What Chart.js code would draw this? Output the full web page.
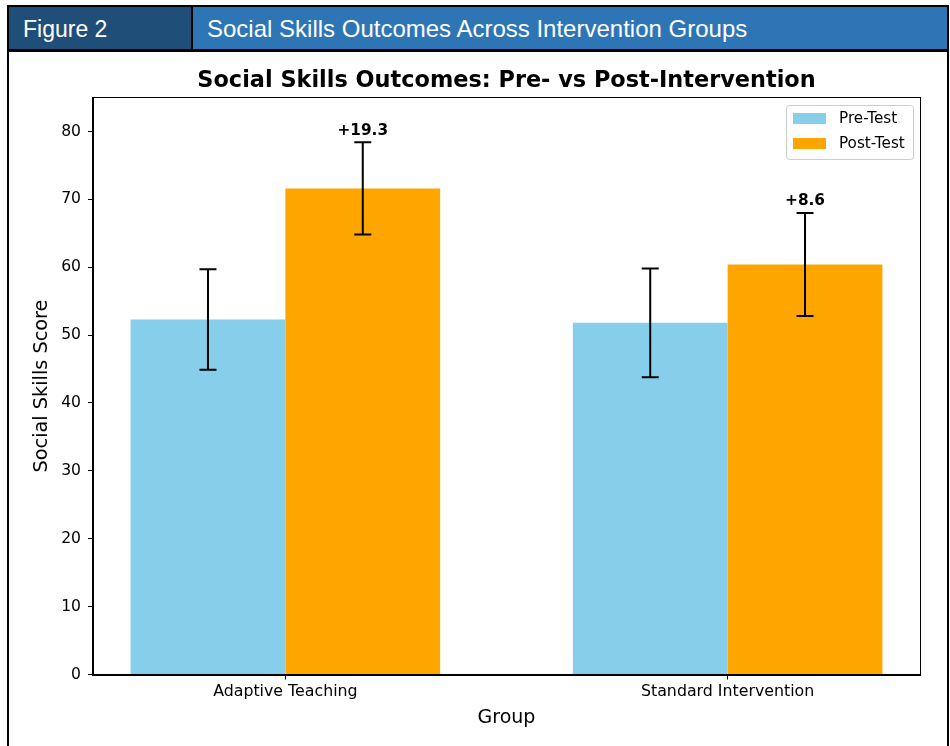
<!DOCTYPE html>
<html>
<head>
<meta charset="utf-8">
<title>Social Skills Outcomes Across Intervention Groups</title>
<script src="https://cdn.jsdelivr.net/npm/chart.js@4/dist/chart.umd.min.js"></script>
<style>
  html, body { margin: 0; padding: 0; background: #fff; }
  body { width: 950px; height: 746px; position: relative; overflow: hidden; }
  #frame {
    position: absolute; left: 7px; top: 5px; width: 942px; height: 800px;
    border: 2px solid #000; box-sizing: border-box;
  }
  #header {
    position: absolute; left: 0; top: 0; right: 0; height: 45px;
    border-bottom: 3px solid #000; box-sizing: border-box; display: flex;
    font-family: "Liberation Sans", Arial, sans-serif; color: #fff;
  }
  #header .num {
    width: 184px; background: #1F4E79; border-right: 2px solid #000; box-sizing: border-box;
    padding-left: 14px; padding-top: 2px; line-height: 40px; white-space: nowrap; font-size: 23px;
  }
  #header .name {
    flex: 1; background: #2E75B6; padding-left: 14px; padding-top: 2px; line-height: 40px;
    white-space: nowrap; font-size: 24px;
  }
  #chart { position: absolute; left: 9px; top: 52px; }
</style>
</head>
<body>
<div id="frame">
  <div id="header"><div class="num">Figure 2</div><div class="name">Social Skills Outcomes Across Intervention Groups</div></div>
</div>
<canvas id="chart" width="938" height="694"></canvas>
<script>
// Group names and mean scores with their error margins
const groups = ['Adaptive Teaching', 'Standard Intervention'];
const preScores = [52.3, 51.8];
const postScores = [71.6, 60.4];
const preErr = [7.4, 8.0];
const postErr = [6.8, 7.6];
const scoreTicks = [0, 10, 20, 30, 40, 50, 60, 70, 80];
const seriesNames = ['Pre-Test', 'Post-Test'];

const FONT = 'DejaVu Sans';

// Error bars with caps, drawn at each bar's centre
const errorBars = {
  id: 'errorBars',
  afterDatasetsDraw(chart) {
    const ctx = chart.ctx;
    const y = chart.scales.y;
    ctx.save();
    ctx.strokeStyle = '#000';
    ctx.lineWidth = 2;
    chart.data.datasets.forEach((ds, di) => {
      const meta = chart.getDatasetMeta(di);
      meta.data.forEach((bar, i) => {
        const v = ds.data[i].y, e = ds.err[i];
        const top = y.getPixelForValue(v + e);
        const bot = y.getPixelForValue(v - e);
        const cx = bar.x, cap = 8.5;
        ctx.beginPath();
        ctx.moveTo(cx, top); ctx.lineTo(cx, bot);
        ctx.moveTo(cx - cap, top); ctx.lineTo(cx + cap, top);
        ctx.moveTo(cx - cap, bot); ctx.lineTo(cx + cap, bot);
        ctx.stroke();
      });
    });
    ctx.restore();
  }
};

// Pre-to-post gain printed above each post-test error bar
const gainLabels = {
  id: 'gainLabels',
  afterDatasetsDraw(chart) {
    const ctx = chart.ctx;
    const y = chart.scales.y;
    const meta = chart.getDatasetMeta(1);
    ctx.save();
    ctx.font = 'bold 15.3px "' + FONT + '"';
    ctx.fillStyle = '#000';
    ctx.textAlign = 'center';
    ctx.textBaseline = 'alphabetic';
    meta.data.forEach((bar, i) => {
      const gain = postScores[i] - preScores[i];
      const top = y.getPixelForValue(postScores[i] + postErr[i]);
      ctx.fillText('+' + gain.toFixed(1), bar.x, top - 7.5);
    });
    ctx.restore();
  }
};

// Full box around the plot area, title above it and legend in its upper-right corner
const frameTitleLegend = {
  id: 'frameTitleLegend',
  afterDraw(chart) {
    const ctx = chart.ctx;
    const a = chart.chartArea;
    ctx.save();
    ctx.strokeStyle = '#000';
    ctx.lineWidth = 1;
    ctx.strokeRect(Math.round(a.left) - 0.5, Math.round(a.top) - 0.5,
                   Math.round(a.right - a.left) + 1, Math.round(a.bottom - a.top) + 1);

    ctx.font = 'bold 22.4px "' + FONT + '"';
    ctx.fillStyle = '#000';
    ctx.textAlign = 'center';
    ctx.textBaseline = 'middle';
    ctx.fillText('Social Skills Outcomes: Pre- vs Post-Intervention', (a.left + a.right) / 2, a.top - 16.5);

    // legend
    const bx = a.right - 134, by = a.top + 7.5, bw = 127, bh = 54;
    ctx.fillStyle = 'rgba(255,255,255,0.8)';
    ctx.strokeStyle = '#cccccc';
    ctx.lineWidth = 1;
    ctx.beginPath();
    ctx.roundRect(bx + 0.5, by + 0.5, bw, bh, 3);
    ctx.fill();
    ctx.stroke();
    ctx.font = '15.2px "' + FONT + '"';
    ctx.textAlign = 'left';
    ctx.textBaseline = 'middle';
    chart.data.datasets.forEach((ds, i) => {
      const rowY = by + 8 + i * 25;
      ctx.fillStyle = ds.backgroundColor;
      ctx.fillRect(bx + 7, rowY, 33, 11);
      ctx.fillStyle = '#000';
      ctx.fillText(ds.label, bx + 53, rowY + 6);
    });
    ctx.restore();
  }
};

new Chart(document.getElementById('chart'), {
  type: 'bar',
  data: {
    datasets: [
      {
        label: seriesNames[0],
        data: groups.map((g, i) => ({ x: i, y: preScores[i] })),
        err: preErr,
        backgroundColor: '#87CEEB'
      },
      {
        label: seriesNames[1],
        data: groups.map((g, i) => ({ x: i, y: postScores[i] })),
        err: postErr,
        backgroundColor: '#FFA500'
      }
    ]
  },
  options: {
    responsive: false,
    animation: false,
    devicePixelRatio: 1,
    categoryPercentage: 0.7,
    barPercentage: 1.0,
    borderWidth: 0,
    layout: { padding: { left: 0, right: 27, top: 45.5, bottom: 0 } },
    plugins: {
      legend: { display: false },
      title: { display: false },
      tooltip: { enabled: false }
    },
    scales: {
      x: {
        type: 'linear',
        min: -0.435,
        max: 1.435,
        offset: false,
        afterBuildTicks(s) { s.ticks = groups.map((g, i) => ({ value: i })); },
        afterFit(s) { s.height = 71.5; },
        ticks: {
          callback: (v) => groups[v],
          color: '#000',
          padding: 3,
          maxRotation: 0,
          font: { family: FONT, size: 15.8 }
        },
        grid: { display: true, drawOnChartArea: false, drawTicks: true, tickLength: 5, tickColor: '#000', offset: false },
        border: { display: true, color: '#000', width: 1 },
        title: {
          display: true, text: 'Group', color: '#000',
          font: { family: FONT, size: 19 },
          padding: { top: 0, bottom: 16.6 }
        }
      },
      y: {
        min: 0,
        max: 85,
        afterBuildTicks(s) { s.ticks = scoreTicks.map(v => ({ value: v })); },
        afterFit(s) { s.width = 84; },
        ticks: {
          color: '#000',
          padding: 7,
          font: { family: FONT, size: 15.6 }
        },
        grid: { display: true, drawOnChartArea: false, drawTicks: true, tickLength: 5, tickColor: '#000' },
        border: { display: true, color: '#000', width: 1 },
        title: {
          display: true, text: 'Social Skills Score', color: '#000',
          font: { family: FONT, size: 19.3 },
          padding: { top: 21.4, bottom: 0 }
        }
      }
    }
  },
  plugins: [errorBars, gainLabels, frameTitleLegend]
});
</script>
</body>
</html>
